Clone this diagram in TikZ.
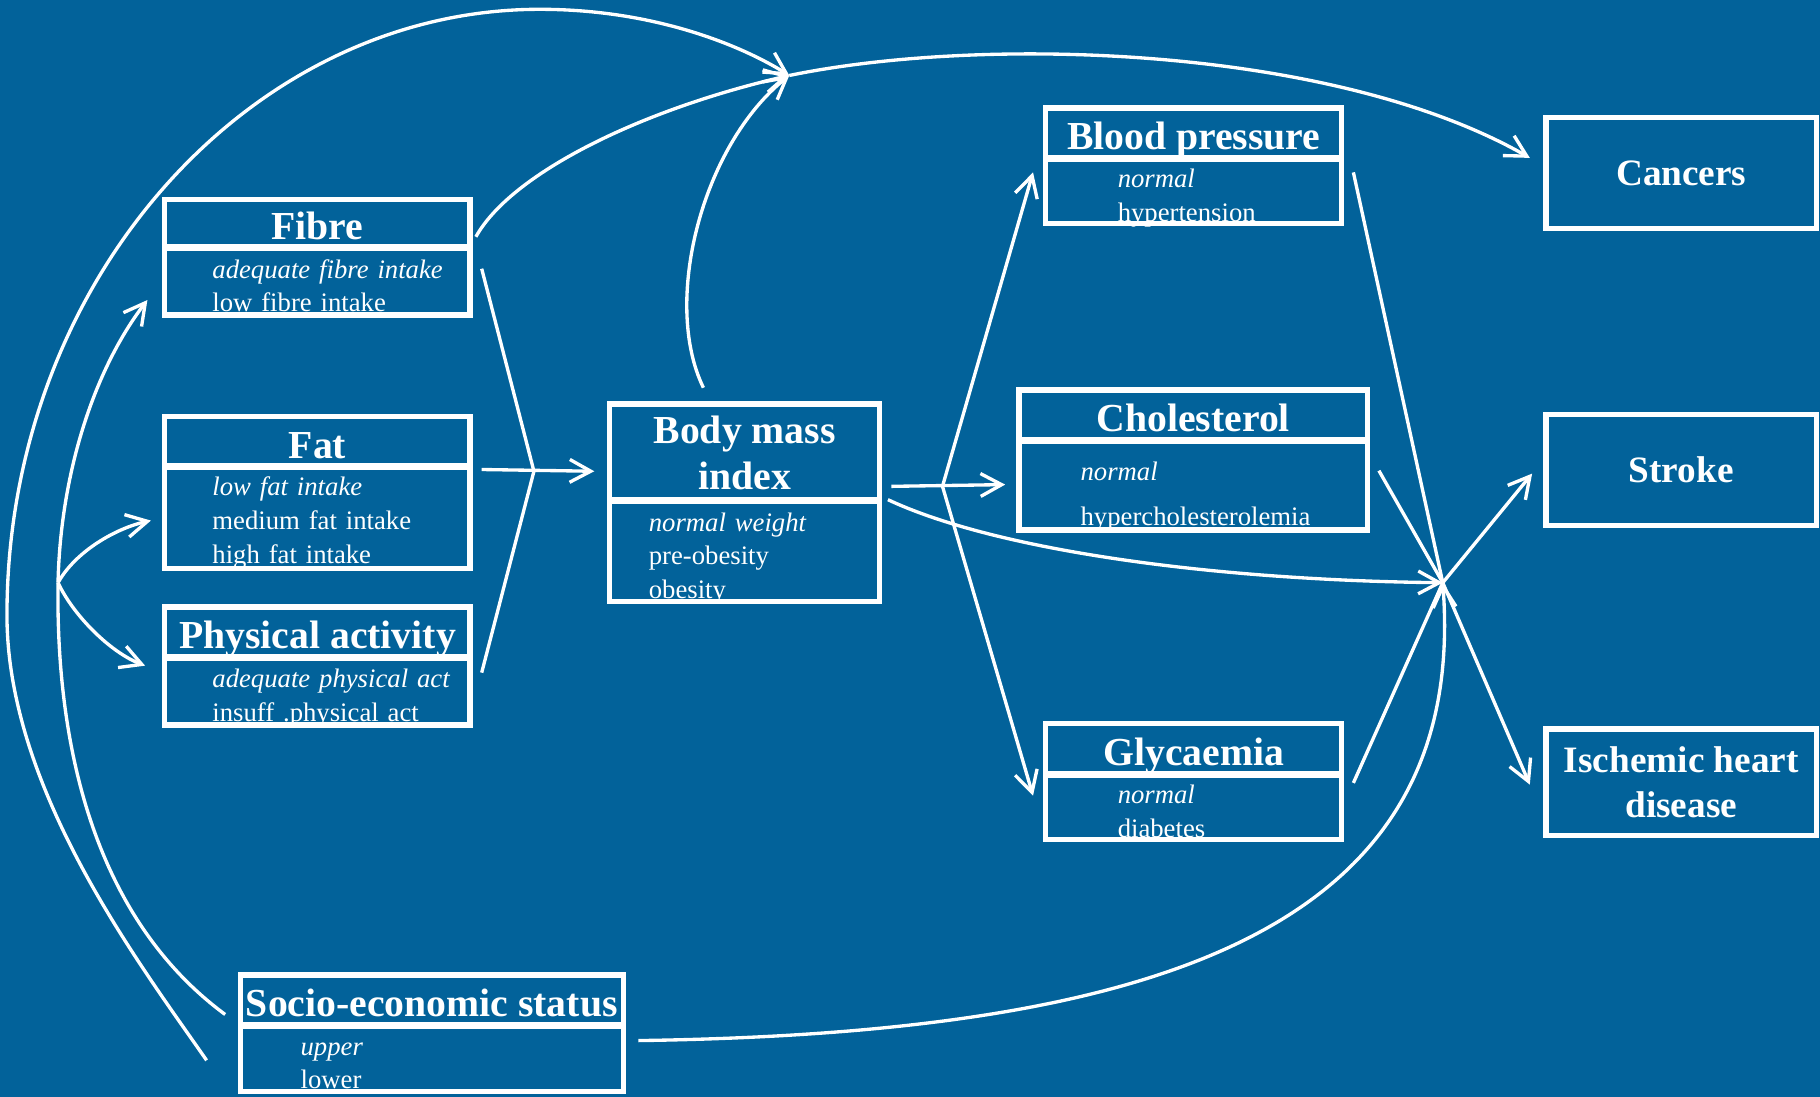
\documentclass[tikz,border=0pt]{standalone}
\usepackage{fontspec}
\setmainfont{Liberation Serif}
\usetikzlibrary{positioning,arrows.meta}

\definecolor{bgblue}{HTML}{02629A}
\newdimen\pxu \pxu=0.011607cm
\newcommand{\levels}[2]{\begin{tabular}{@{\hspace{#1\pxu}}l@{}}#2\end{tabular}}

\begin{document}
\begin{tikzpicture}[
        x=0.011607cm, y=0.011607cm,
        node distance=-0.5pt,
        wire/.style={draw=white,line width=0.95pt},
        arr/.style={wire,-{Straight Barb[length=6pt,width=6.5pt]}},
        ttl/.style={draw=white,line width=1.5pt,outer sep=0pt,text=white,inner sep=0pt,align=center,
            font=\fontsize{11.3}{13.2}\selectfont\bfseries},
        one/.style={ttl,text height=9pt,text depth=0pt,anchor=north west},
        lvl/.style={draw=white,line width=1.5pt,outer sep=0pt,text=white,inner sep=0pt,align=left,
            text height=8.2pt,text depth=0pt,font=\fontsize{7.6}{9.6}\selectfont},
        dis/.style={ttl,font=\fontsize{10.6}{12.9}\selectfont\bfseries,
            minimum width=233\pxu,anchor=north west}
    ]
    \useasboundingbox (0,0) rectangle (1568,-945);
    \fill[bgblue] (0,0) rectangle (1568,-945);

    % exposures
    \node[one,minimum width=263\pxu,minimum height=42\pxu] (fibT) at (142,-172) {Fibre};
    \node[lvl,text width=263\pxu,minimum height=59\pxu,below=of fibT] (fibB)
        {\levels{41}{\textit{adequate fibre intake}\\low fibre intake}};

    \node[one,minimum width=263\pxu,minimum height=44\pxu] (fatT) at (142,-359) {Fat};
    \node[lvl,text width=263\pxu,minimum height=88\pxu,below=of fatT,text height=7.2pt] (fatB)
        {\levels{41}{\textit{low fat intake}\\medium fat intake\\high fat intake}};

    \node[one,minimum width=263\pxu,minimum height=44\pxu] (paT) at (142,-523) {Physical activity};
    \node[lvl,text width=263\pxu,minimum height=59\pxu,below=of paT] (paB)
        {\levels{41}{\textit{adequate physical act}\\insuff .physical act}};

    \node[one,minimum width=330\pxu,minimum height=44\pxu] (seT) at (207,-840) {Socio-economic status};
    \node[lvl,text width=330\pxu,minimum height=58\pxu,below=of seT] (seB)
        {\levels{52}{\textit{upper}\\lower}};

    % intermediates
    \node[ttl,minimum width=233\pxu,minimum height=84\pxu,anchor=north west] (bmiT) at (525,-348) {Body mass\\index};
    \node[lvl,text width=233\pxu,minimum height=88\pxu,below=of bmiT] (bmiB)
        {\levels{34}{\textit{normal weight}\\pre-obesity\\obesity}};

    \node[one,minimum width=255\pxu,minimum height=44\pxu] (bpT) at (901,-93) {Blood pressure};
    \node[lvl,text width=255\pxu,minimum height=57\pxu,below=of bpT] (bpB)
        {\levels{62}{\textit{normal}\\hypertension}};

    \node[one,minimum width=300\pxu,minimum height=44\pxu] (chT) at (878,-336) {Cholesterol};
    \node[lvl,text width=300\pxu,minimum height=78\pxu,below=of chT,text height=10.7pt] (chB)
        {\levels{53}{\textit{normal}\\[3.3pt]hypercholesterolemia}};

    \node[one,minimum width=255\pxu,minimum height=45\pxu] (glT) at (901,-623) {Glycaemia};
    \node[lvl,text width=255\pxu,minimum height=57\pxu,below=of glT] (glB)
        {\levels{62}{\textit{normal}\\diabetes}};

    % outcomes
    \node[dis,minimum height=96\pxu] (can) at (1332,-101) {Cancers};
    \node[dis,minimum height=96\pxu] (stk) at (1332,-357) {Stroke};
    \node[dis,minimum height=92\pxu] (ihd) at (1332,-628) {Ischemic heart\\disease};

    % junctions
    \coordinate (jT) at (680,-65);
    \coordinate (jR) at (1243,-502);
    \coordinate (jF) at (460,-406);
    \coordinate (jB) at (812,-419);
    \coordinate (jS) at (50,-502);

    % diet and activity into BMI
    \draw[wire] ([shift={(10,-19)}]fibB.north east) -- (jF);
    \draw[wire] ([shift={(10,-14)}]paB.north east) -- (jF);
    \draw[arr] ([shift={(10,-3)}]fatB.north east) -- ([shift={(-13,26)}]bmiT.south west);

    % BMI into the risk factors
    \draw[arr] ([shift={(10,13)}]bmiT.south east) -- ([shift={(-12,0)}]chB.west);
    \draw[arr] (jB) -- ([shift={(-11,-13)}]bpB.north west);
    \draw[arr] (jB) -- ([shift={(-11,-19)}]glB.north west);

    % risk factors into the diseases
    \draw[wire] ([shift={(10,-13)}]bpB.north east) -- (jR);
    \draw[wire] ([shift={(10,12)}]chB.east) -- (jR);
    \draw[wire] ([shift={(10,-8)}]glB.north east) -- (jR);
    \draw[arr] (jR) -- ([shift={(-12,-3)}]stk.west);
    \draw[arr] (jR) -- ([shift={(-14,-2)}]ihd.west);
    \draw[arr] ([shift={(7,0)}]bmiB.north east) .. controls (860,-475) and (1050,-500) .. (jR);
    \draw[arr] ([shift={(13,-14)}]seB.north east) .. controls (1000,-890) and (1265,-800) .. (jR);

    % paths to cancers
    \draw[arr] ([shift={(5,-11)}]fibT.east) .. controls (440,-150) and (550,-95) .. (jT);
    \draw[arr] ([shift={(-35.5,14)}]bmiT.north) .. controls (570,-260) and (605,-125) .. (jT);
    \draw[arr] ([shift={(-29,-2)}]seB.west) .. controls (120,-830) and (6,-680) .. (6,-530)
        .. controls (6,-243) and (214,-8) .. (465,-8) .. controls (565,-8) and (640,-40) .. (jT);
    \draw[arr] (jT) .. controls (850,-30) and (1150,-40) .. ([shift={(-14,13)}]can.west);

    % socio-economic status into the exposures
    \draw[wire] ([shift={(-13,-12)}]seT.west) .. controls (80,-790) and (48,-640) .. (jS);
    \draw[arr] (jS) .. controls (52,-410) and (80,-320) .. ([shift={(-15,-16.5)}]fibB.west);
    \draw[arr] (jS) .. controls (65,-475) and (100,-455) .. ([shift={(-12,-3)}]fatB.west);
    \draw[arr] (jS) .. controls (63,-530) and (95,-562) .. ([shift={(-17,21.5)}]paB.west);
\end{tikzpicture}
\end{document}
